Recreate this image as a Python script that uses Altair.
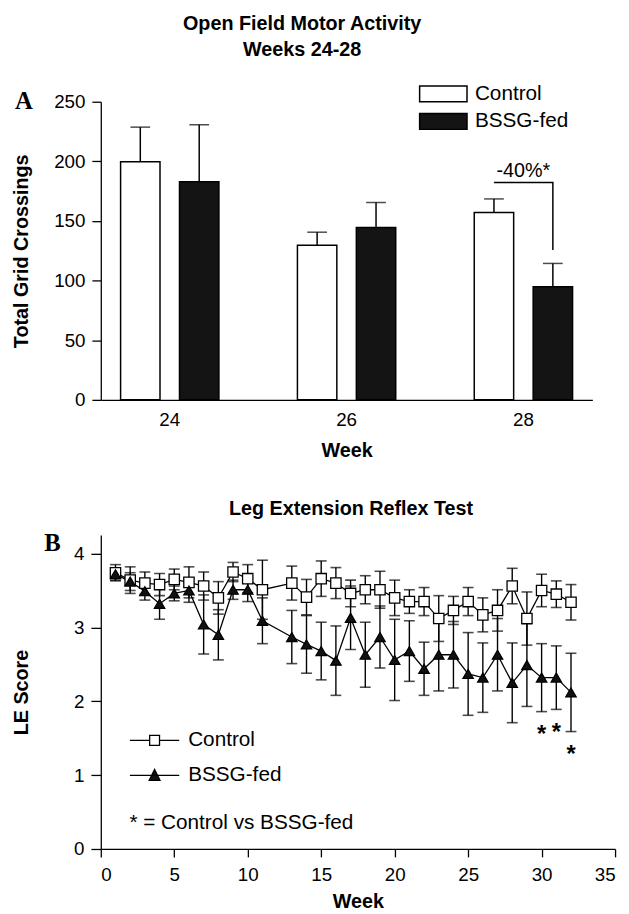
import altair as alt
import pandas as pd

FONT = "Liberation Sans"

# ---------------- Panel A data ----------------
a_weeks = ["24", "26", "28"]
groups = ["Control", "BSSG-fed"]
a_control = [199.7, 129.6, 157.2]
a_control_sem = [29.0, 11.0, 11.3]
a_bssg = [182.9, 144.5, 94.8]
a_bssg_sem = [47.8, 21.0, 19.6]
a_bracket_group = ["Control", "BSSG-fed", "BSSG-fed"]
a_bracket_y = [182.3, 182.3, 125.7]
a_note_y = [192.0]
a_note = ["-40%*"]

# ---------------- Panel B data ----------------
b_weeks = [1, 2, 3, 4, 5, 6, 7, 8, 9, 10, 11, 13, 14, 15, 16, 17, 18, 19, 20,
           21, 22, 23, 24, 25, 26, 27, 28, 29, 30, 31, 32]
b_control = [3.74, 3.64, 3.60, 3.58, 3.65, 3.61, 3.56, 3.40, 3.75, 3.66, 3.51,
             3.60, 3.41, 3.66, 3.60, 3.46, 3.51, 3.51, 3.40, 3.35, 3.35, 3.12,
             3.23, 3.35, 3.17, 3.23, 3.56, 3.12, 3.50, 3.45, 3.34]
b_control_sem = [0.11, 0.18, 0.15, 0.15, 0.14, 0.21, 0.19, 0.22, 0.13, 0.19, 0.40,
                 0.23, 0.24, 0.24, 0.21, 0.18, 0.19, 0.25, 0.24, 0.16, 0.19, 0.31,
                 0.19, 0.19, 0.23, 0.28, 0.24, 0.36, 0.22, 0.18, 0.24]
b_bssg = [3.72, 3.62, 3.49, 3.32, 3.46, 3.50, 3.04, 2.90, 3.51, 3.51, 3.09,
          2.87, 2.77, 2.68, 2.55, 3.13, 2.63, 2.87, 2.56, 2.68, 2.44, 2.63,
          2.63, 2.37, 2.32, 2.63, 2.25, 2.49, 2.32, 2.32, 2.12]
b_bssg_sem = [0.08, 0.12, 0.12, 0.21, 0.10, 0.16, 0.40, 0.34, 0.13, 0.16, 0.31,
              0.36, 0.39, 0.39, 0.47, 0.43, 0.44, 0.42, 0.55, 0.41, 0.36, 0.49,
              0.45, 0.56, 0.47, 0.49, 0.54, 0.56, 0.46, 0.43, 0.53]
sig_weeks = [30, 31, 32]

# ---------------- Tables ----------------
rows_a = []
for g, means, sems in [("Control", a_control, a_control_sem), ("BSSG-fed", a_bssg, a_bssg_sem)]:
    for w, m, s in zip(a_weeks, means, sems):
        rows_a.append({"week": w, "group": g, "value": m, "upper": m + s})
df_a = pd.DataFrame(rows_a)
df_bracket = pd.DataFrame({"week": ["28"] * 3, "group": a_bracket_group,
                           "y": a_bracket_y, "order": [0, 1, 2]})
df_note = pd.DataFrame({"week": ["28"], "y": a_note_y, "text": a_note})

rows_b = []
for g, means, sems in [("Control", b_control, b_control_sem), ("BSSG-fed", b_bssg, b_bssg_sem)]:
    for w, m, s in zip(b_weeks, means, sems):
        rows_b.append({"week": w, "group": g, "score": m, "lo": m - s, "hi": m + s})
df_b = pd.DataFrame(rows_b)
df_sig = df_b[(df_b.group == "BSSG-fed") & (df_b.week.isin(sig_weeks))].copy()
df_sig["star"] = "*"

# ---------------- Panel A ----------------
xa = alt.X("week:N", sort=a_weeks,
           scale=alt.Scale(paddingInner=0.444, paddingOuter=0.112),
           axis=alt.Axis(title="Week", labelAngle=0, ticks=False, labelPadding=11,
                         titlePadding=11))
xo = alt.XOffset("group:N", sort=groups,
                 scale=alt.Scale(domain=groups, paddingInner=0.331, paddingOuter=0))
ya = alt.Y("value:Q", scale=alt.Scale(domain=[0, 250], nice=False),
           axis=alt.Axis(title="Total Grid Crossings", values=[0, 50, 100, 150, 200, 250],
                         tickSize=9, labelPadding=7, titleX=-70))

base_a = alt.Chart(df_a)
bars = base_a.mark_bar(stroke="black", strokeWidth=1.5).encode(
    x=xa, xOffset=xo, y=ya,
    fill=alt.Fill("group:N", sort=groups,
                  scale=alt.Scale(domain=groups, range=["white", "#141414"]),
                  legend=alt.Legend(title=None, orient="none", legendX=330, legendY=-25,
                                    symbolType="M-1.5,-0.5H1.5V0.5H-1.5Z", symbolSize=1024,
                                    symbolStrokeColor="black", symbolStrokeWidth=1.5,
                                    labelFontSize=21, labelOffset=15, rowPadding=-4.5,
                                    labelColor="black")),
)
err_a = base_a.mark_rule(color="black", strokeWidth=1.5).encode(
    x=xa, xOffset=xo, y=alt.Y("value:Q", title="Total Grid Crossings"), y2="upper:Q")
cap_a = base_a.mark_tick(color="black", thickness=1.5, size=20, orient="horizontal").encode(
    x=xa, xOffset=xo, y=alt.Y("upper:Q", title="Total Grid Crossings"))
bracket = alt.Chart(df_bracket).mark_line(color="black", strokeWidth=1.5).encode(
    x=xa, xOffset=xo, y=alt.Y("y:Q", title="Total Grid Crossings"), order="order:Q")
note = alt.Chart(df_note).mark_text(fontSize=20, baseline="middle", color="black").encode(
    x=xa, y=alt.Y("y:Q", title="Total Grid Crossings"), text="text:N")
letter_a = alt.Chart(pd.DataFrame({"t": ["A"]})).mark_text(
    font="Liberation Serif", fontWeight="bold", fontSize=25, baseline="alphabetic",
    align="center", color="black").encode(x=alt.value(-78), y=alt.value(7), text="t:N")

panel_a = alt.layer(bars, err_a, cap_a, bracket, note, letter_a).properties(
    width=498, height=302,
    title=alt.TitleParams(["Open Field Motor Activity", "Weeks 24-28"], fontSize=20,
                          fontWeight="bold", anchor="middle", frame="bounds",
                          lineHeight=27, offset=29, color="black"))

# ---------------- Panel B ----------------
xb = alt.X("week:Q", scale=alt.Scale(domain=[0, 35], nice=False),
           axis=alt.Axis(title="Week", values=list(range(0, 36, 5)), tickSize=8,
                         labelPadding=9, titlePadding=7))
yt = "LE Score"
yb_axis = alt.Axis(title=yt, values=[0, 1, 2, 3, 4], format="d", tickSize=10,
                   labelPadding=7, titleX=-70)
yscale_b = alt.Scale(domain=[0, 4.25], nice=False)

base_b = alt.Chart(df_b)
err_b = base_b.mark_rule(color="black", strokeWidth=1.4).encode(
    x=xb, y=alt.Y("lo:Q", scale=yscale_b, axis=yb_axis), y2="hi:Q", detail="group:N")
cap_lo = base_b.mark_tick(color="black", thickness=1.6, size=11, orient="horizontal").encode(
    x=xb, y=alt.Y("lo:Q", scale=yscale_b, title=yt))
cap_hi = base_b.mark_tick(color="black", thickness=1.6, size=11, orient="horizontal").encode(
    x=xb, y=alt.Y("hi:Q", scale=yscale_b, title=yt))
lines = base_b.mark_line(color="black", strokeWidth=1.3).encode(
    x=xb, y=alt.Y("score:Q", scale=yscale_b, title=yt), detail="group:N")
pts = base_b.mark_point(filled=True, stroke="black", strokeWidth=1.3, size=110, opacity=1).encode(
    x=xb, y=alt.Y("score:Q", scale=yscale_b, title=yt),
    shape=alt.Shape("group:N", scale=alt.Scale(domain=groups, range=["square", "triangle-up"]),
                    legend=None),
    fill=alt.Fill("group:N", scale=alt.Scale(domain=groups, range=["white", "#111111"]),
                  legend=None),
)
ctrl_path = "M-2.5,0H-0.5M0.5,0H2.5M-0.5,-0.5H0.5V0.5H-0.5Z"
bssg_path = "M-2.5,0H2.5M-0.55,0.5L0.55,0.5L0,-0.6Z"
leg_props = dict(title=None, orient="none", legendX=43.5, legendY=197,
                 symbolSize=400, labelFontSize=21, labelOffset=23,
                 rowPadding=14.5, symbolStrokeWidth=1.3, labelColor="black")
leg_b = base_b.transform_filter("false").mark_point(
    filled=True, strokeWidth=1.3, opacity=1).encode(
    x=xb, y=alt.Y("score:Q", scale=yscale_b, title=yt),
    shape=alt.Shape("group:N", scale=alt.Scale(domain=groups, range=[ctrl_path, bssg_path]),
                    legend=alt.Legend(**leg_props)),
    fill=alt.Fill("group:N", scale=alt.Scale(domain=groups, range=["white", "#111111"]),
                  legend=alt.Legend(**leg_props)),
    stroke=alt.Stroke("group:N", scale=alt.Scale(domain=groups, range=["black", "black"]),
                      legend=alt.Legend(**leg_props)),
)
stars = alt.Chart(df_sig).mark_text(fontSize=24, fontWeight="bold", baseline="middle",
                                    dy=24, color="black").encode(
    x=xb, y=alt.Y("lo:Q", scale=yscale_b, title=yt), text="star:N")
key_note = alt.Chart(pd.DataFrame({"t": ["*  = Control vs BSSG-fed"]})).mark_text(
    fontSize=21, align="left", baseline="middle", color="black").encode(
    x=alt.value(29), y=alt.value(292), text="t:N")
letter_b = alt.Chart(pd.DataFrame({"t": ["B"]})).mark_text(
    font="Liberation Serif", fontWeight="bold", fontSize=25, baseline="alphabetic",
    align="center", color="black").encode(x=alt.value(-49), y=alt.value(16), text="t:N")

panel_b = alt.layer(err_b, cap_lo, cap_hi, lines, pts, leg_b, stars, key_note, letter_b).resolve_scale(
    shape="independent", fill="independent", stroke="independent").properties(
    width=521, height=318,
    title=alt.TitleParams("Leg Extension Reflex Test", fontSize=20, fontWeight="bold",
                          anchor="middle", frame="group", offset=12, dx=-7, color="black"))

chart = alt.vconcat(panel_a, panel_b, spacing=40).configure(
    font=FONT, padding={"top": 0, "left": 4, "right": 5, "bottom": 5}).configure_view(
    stroke=None).configure_axis(
    domainColor="black", domainWidth=1.3, tickColor="black", tickWidth=1.3,
    labelColor="black", labelFontSize=19, labelFont=FONT, titleFont=FONT,
    titleFontSize=20, titleFontWeight="bold", titleColor="black", grid=False)

chart.save("out.html", embed_options={"renderer": "svg", "actions": False})
